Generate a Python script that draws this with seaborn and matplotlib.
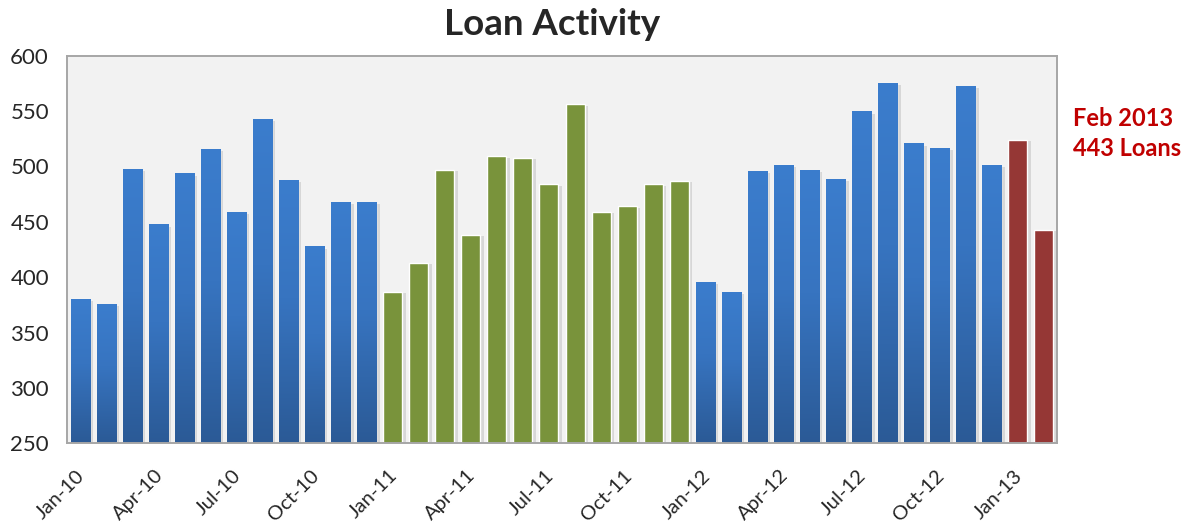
import matplotlib
matplotlib.use("Agg")
import matplotlib.pyplot as plt
import matplotlib.patheffects as pe
import matplotlib.colors as colors
import matplotlib.transforms as mtransforms
import seaborn as sns
import pandas as pd
import numpy as np

# Monthly loan counts, Jan 2010 - Feb 2013
months = [f"{m}-{y}" for y in ["10", "11", "12"]
          for m in ["Jan", "Feb", "Mar", "Apr", "May", "Jun",
                    "Jul", "Aug", "Sep", "Oct", "Nov", "Dec"]] + ["Jan-13", "Feb-13"]
loans_2010 = [380, 375, 497, 447, 493, 515, 458, 542, 487, 427, 467, 467]
loans_2011 = [387, 413, 497, 438, 509, 508, 484, 556, 459, 464, 484, 487]
loans_2012 = [395, 386, 495, 501, 496, 488, 549, 575, 520, 516, 572, 501]
loans_2013 = [524, 443]
groups = ["2010"] * 12 + ["2011"] * 12 + ["2012"] * 12 + ["2013"] * 2
palette = {"2010": "#3a78c6", "2011": "#79933b", "2012": "#3a78c6", "2013": "#953735"}
tick_labels = months[::3]

df = pd.DataFrame({"month": months,
                   "loans": loans_2010 + loans_2011 + loans_2012 + loans_2013,
                   "group": groups})

sns.set_style("white")
plt.rcParams["font.family"] = ["Lato", "DejaVu Sans"]

fig = plt.figure(figsize=(11.88, 5.24), dpi=100)
ax = fig.add_axes([0.0564, 0.154, 0.8333, 0.7397])
ax.set_facecolor("#f2f2f2")

sns.barplot(data=df, x="month", y="loans", hue="group", palette=palette,
            dodge=False, legend=False, width=0.73, saturation=1, ax=ax)

ymin, ymax = 250, 600
blue_cmap = colors.LinearSegmentedColormap.from_list(
    "bluegrad", [(0, "#2b5a96"), (0.55, "#3774c0"), (1, "#3b7dcd")])
for patch in ax.patches:
    patch.set_path_effects([pe.SimplePatchShadow(offset=(2.5, -1), shadow_rgbFace="#9a9a9a", alpha=0.3),
                            pe.Normal()])
    fc = colors.to_hex(patch.get_facecolor())
    if fc == "#3a78c6":
        x0 = patch.get_x()
        w = patch.get_width()
        top = patch.get_height()
        grad = np.linspace(1, 0, 256).reshape(-1, 1)
        ax.imshow(grad, extent=[x0, x0 + w, ymin, top], cmap=blue_cmap,
                  aspect="auto", zorder=patch.get_zorder() + 0.1, interpolation="bicubic")

ax.set_xlim(-0.5, len(months) - 0.5)
ax.set_ylim(ymin, ymax)
ax.set_yticks(range(250, 601, 50))
ax.set_xticks([i - 0.5 for i in range(0, len(months), 3)])
ax.set_xticklabels(tick_labels, rotation=45, ha="right", va="center",
                   rotation_mode="anchor", fontsize=14.5)
ax.tick_params(axis="x", length=5, color="#9d9d9d", width=1.3, pad=0)
ax.tick_params(axis="y", length=10, color="#9d9d9d", width=1.3, labelsize=16, pad=3)
shift = mtransforms.ScaledTranslation(0.15, -0.225, fig.dpi_scale_trans)
for lbl in ax.get_xticklabels():
    lbl.set_transform(lbl.get_transform() + shift)
ax.set_xlabel("")
ax.set_ylabel("")
for s in ax.spines.values():
    s.set_color("#a6a6a6")
    s.set_linewidth(1.4)

fig.text(0.465, 0.953, "Loan Activity", ha="center", va="center",
         fontsize=26.5, fontweight="bold")
fig.text(0.903, 0.745, "Feb 2013\n443 Loans", ha="left", va="center",
         fontsize=17, fontweight="bold", color="#c00000", linespacing=1.4)

plt.savefig("out.png", dpi=100)
